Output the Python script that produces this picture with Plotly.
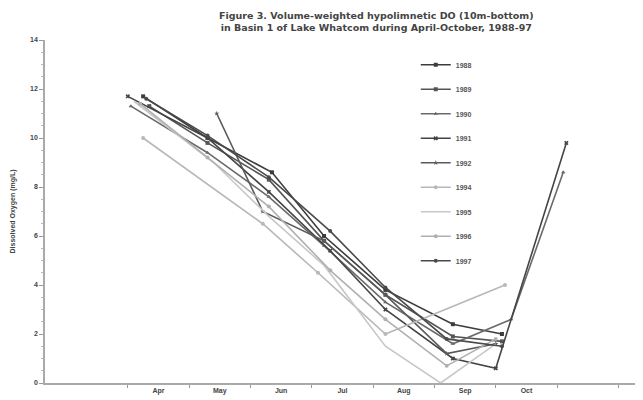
import plotly.graph_objects as go

# x = months since 1 April (0 = Apr 1, 1 = May 1, ...)
month_labels = ["Apr", "May", "Jun", "Jul", "Aug", "Sep", "Oct"]
month_label_pos = [0.5, 1.5, 2.5, 3.5, 4.5, 5.5, 6.5]
month_ticks = [0, 1, 2, 3, 4, 5, 6, 7, 8]

years = ["1988", "1989", "1990", "1991", "1992", "1994", "1995", "1996", "1997"]

x1988 = [0.25, 1.3, 2.35, 3.2, 4.2, 5.3, 6.1]
y1988 = [11.7, 10.0, 8.6, 6.0, 3.8, 2.4, 2.0]
x1989 = [0.35, 1.3, 2.3, 3.2, 4.2, 5.3, 6.1]
y1989 = [11.3, 9.8, 8.3, 5.8, 3.6, 1.9, 1.7]
x1990 = [0.05, 1.3, 2.3, 3.2, 4.2, 5.3, 6.25, 7.1]
y1990 = [11.3, 9.4, 7.6, 5.6, 3.3, 1.6, 2.6, 8.6]
x1991 = [0.0, 1.3, 2.3, 3.3, 4.2, 5.3, 6.0, 7.15]
y1991 = [11.7, 10.0, 7.8, 5.4, 3.0, 1.0, 0.6, 9.8]
x1992 = [1.45, 2.2, 3.2, 4.2, 5.2, 6.0]
y1992 = [11.0, 7.0, 5.8, 3.6, 1.2, 1.6]
x1994 = [0.25, 2.2, 3.1, 4.2, 6.15]
y1994 = [10.0, 6.5, 4.5, 2.0, 4.0]
x1995 = [0.1, 1.4, 2.3, 3.2, 4.2, 5.1, 6.0]
y1995 = [11.5, 9.0, 6.8, 4.8, 1.5, 0.0, 1.6]
x1996 = [0.2, 1.3, 2.3, 3.3, 4.2, 5.2, 6.0]
y1996 = [11.4, 9.2, 7.2, 4.6, 2.6, 0.7, 1.8]
x1997 = [0.3, 1.3, 2.3, 3.3, 4.2, 5.2, 6.1]
y1997 = [11.6, 10.1, 8.4, 6.2, 3.9, 1.8, 1.5]

title_text = ("<b>Figure 3. Volume-weighted hypolimnetic DO (10m-bottom)<br>"
              "in Basin 1 of Lake Whatcom during April-October, 1988-97</b>")

xs = [x1988, x1989, x1990, x1991, x1992, x1994, x1995, x1996, x1997]
ys = [y1988, y1989, y1990, y1991, y1992, y1994, y1995, y1996, y1997]
colors = ["#3c3c3c", "#555555", "#6a6a6a", "#444444", "#5a5a5a",
          "#b8b8b8", "#c8c8c8", "#b0b0b0", "#4a4a4a"]
symbols = ["square", "square", "triangle-up", "x", "star",
           "circle", "line-ew", "circle", "circle"]

fig = go.Figure()
for i, yr in enumerate(years):
    fig.add_trace(go.Scatter(
        x=xs[i], y=ys[i], name=yr, mode="lines+markers",
        line=dict(color=colors[i], width=1.6),
        marker=dict(color=colors[i], size=4, symbol=symbols[i]),
        legendgroup=yr,
    ))

bold_small = dict(size=7, color="#444444", weight="bold")

fig.add_annotation(
    text=title_text, xref="paper", yref="paper",
    x=0.555, xanchor="center", y=1.016, yanchor="bottom",
    showarrow=False, align="center",
    font=dict(size=9.5, color="#444444", family="DejaVu Sans, sans-serif"),
)

fig.update_layout(
    width=635, height=392,
    margin=dict(l=37, r=0, t=32, b=17),
    paper_bgcolor="white", plot_bgcolor="white",
    font=dict(family="Liberation Sans, Arial, sans-serif", color="#333333"),
    showlegend=True,
    legend=dict(
        x=0.62, y=0.97, xanchor="left", yanchor="top",
        font=dict(size=7, color="#555555", weight="bold"),
        tracegroupgap=5.5, itemwidth=30,
        bgcolor="rgba(0,0,0,0)",
    ),
    xaxis=dict(
        range=[-1.35, 8.4], showgrid=False, zeroline=False,
        showline=True, linecolor="#aaaaaa", linewidth=1.5,
        tickmode="array", tickvals=month_label_pos, ticktext=month_labels,
        ticks="", tickfont=bold_small,
        minor=dict(tickmode="array", tickvals=month_ticks, ticks="outside",
                   ticklen=3, tickcolor="#999999", showgrid=False),
    ),
    yaxis=dict(
        range=[0, 14], showgrid=False, zeroline=False,
        showline=True, linecolor="#aaaaaa", linewidth=1.5,
        tickmode="array", tickvals=[0, 2, 4, 6, 8, 10, 12, 14],
        ticks="outside", ticklen=4, tickcolor="#999999",
        tickfont=bold_small,
        minor=dict(dtick=0.5, ticks="outside", ticklen=2, tickcolor="#bbbbbb", showgrid=False),
        title=dict(text="<b>Dissolved Oxygen (mg/L)</b>",
                   font=dict(size=7, color="#444444"), standoff=14),
    ),
)

fig.write_html("out.html")
